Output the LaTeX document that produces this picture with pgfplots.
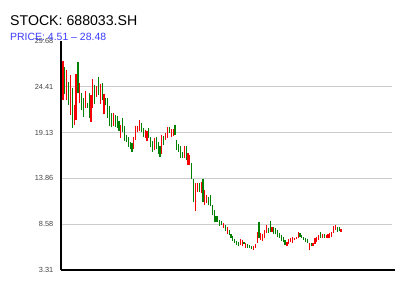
\documentclass[border=0pt]{standalone}
\usepackage{fontspec}
\setmainfont{Liberation Sans}
\usepackage{pgfplots}
\usepackage{pgfplotstable}
\pgfplotsset{compat=1.18}
\definecolor{upred}{RGB}{245,0,0}
\definecolor{dngreen}{RGB}{0,128,0}
\definecolor{subblue}{RGB}{60,60,255}
\definecolor{gridgray}{RGB}{204,204,204}
\definecolor{ticktext}{RGB}{68,68,68}

\pgfplotstableread{
x lo hi
1 22.89 27.38
3 22.89 26.34
5 21.16 25.76
7 20.01 22.31
8 20.58 25.88
10 22.54 24.84
13 21.96 23.92
16 20.35 23.46
17 21.96 25.30
19 23.23 24.50
21 22.42 24.73
23 21.27 23.58
28 19.89 21.39
32 18.51 20.01
39 17.24 18.62
40 18.28 19.89
41 19.20 19.89
42 19.32 20.58
45 18.51 19.43
46 18.16 19.32
50 17.13 18.51
54 16.67 18.85
56 18.28 19.09
57 18.51 19.78
59 18.62 19.55
60 18.74 19.55
66 16.21 17.59
68 15.40 16.78
69 15.40 16.55
72 10.10 13.33
73 12.29 13.33
75 12.18 13.44
77 10.79 12.52
78 11.03 11.95
87 8.15 8.72
89 7.46 8.26
96 6.19 6.88
97 6.07 6.76
99 5.84 6.42
103 5.61 6.07
104 5.84 6.30
105 6.42 7.69
107 6.76 7.57
108 6.65 7.46
109 6.99 7.92
110 7.57 8.49
113 7.69 8.26
121 6.07 6.53
122 6.30 6.88
123 6.53 6.99
124 6.42 7.11
125 6.76 6.99
126 6.88 7.11
127 6.99 7.69
133 5.61 6.42
135 6.07 6.42
136 6.30 6.99
137 6.53 7.11
138 6.76 7.34
140 6.99 7.46
142 6.99 7.34
143 6.99 7.46
144 6.99 7.57
145 7.11 7.69
146 7.57 8.38
147 7.92 8.49
150 7.69 8.03
}\redtab

\pgfplotstableread{
x lo hi
2 23.58 26.69
4 22.31 24.96
6 19.66 24.27
9 23.69 27.26
11 21.73 23.69
12 20.93 23.12
14 21.96 22.54
15 20.81 23.69
18 22.42 24.61
20 23.46 25.53
22 22.89 24.84
24 22.31 23.12
25 20.81 23.12
26 19.89 22.19
27 19.78 21.39
29 19.78 21.16
30 19.66 21.04
31 19.32 20.47
33 19.20 20.81
34 18.16 19.89
35 18.05 18.85
36 17.47 18.62
37 17.24 18.05
38 16.90 17.93
43 19.20 20.24
44 18.62 19.66
47 18.51 19.66
48 17.47 18.62
49 16.90 18.16
51 17.24 18.62
52 16.67 18.05
53 16.32 17.59
55 17.70 18.74
58 19.09 19.78
61 18.85 20.01
62 17.13 18.28
63 16.90 17.82
64 16.21 17.59
65 16.21 16.90
67 15.98 17.59
70 13.79 15.63
71 11.14 13.79
74 12.29 13.33
76 11.14 13.79
79 10.79 11.72
80 10.68 11.95
81 9.64 10.79
82 8.84 10.22
83 8.84 9.53
84 8.84 9.53
85 8.38 9.07
86 8.49 8.95
88 7.80 8.49
90 7.34 7.92
91 6.99 7.46
92 6.65 7.23
93 6.42 6.88
94 6.19 6.65
95 6.07 6.53
98 6.30 6.53
100 5.84 6.30
101 5.84 6.19
102 5.73 6.07
106 6.99 8.84
111 7.57 8.15
112 7.69 8.95
114 7.46 8.26
115 7.46 8.15
116 7.11 7.92
117 6.99 7.57
118 6.65 7.34
119 6.53 7.11
120 6.19 6.76
128 7.11 7.57
129 6.99 7.34
130 6.76 7.11
131 6.53 6.99
132 6.42 6.88
134 6.07 6.42
139 6.99 7.69
141 6.99 7.46
148 7.69 8.26
149 7.80 8.26
}\greentab

\begin{document}
\begin{tikzpicture}
\path[use as bounding box] (-61bp,-30bp) rectangle (339bp,270bp);
\begin{axis}[
  at={(0,0)}, anchor=south west,
  scale only axis, width=331bp, height=229bp,
  xmin=-0.07, xmax=177.3, ymin=3.31, ymax=29.68,
  axis x line*=bottom, axis y line*=left,
  axis line style={line width=2.7bp, black, -},
  x axis line style={shorten >=-3bp},
  xtick=\empty,
  ytick={8.58,13.86,19.13,24.41},
  yticklabels={8.58,13.86,19.13,24.41},
  extra y ticks={3.31,29.68},
  extra y tick labels={3.31,29.68},
  extra y tick style={grid=none},
  ymajorgrids,
  major grid style={gridgray, line width=0.9bp},
  major tick length=0pt,
  yticklabel style={font=\fontsize{7.4}{8}\selectfont, text=ticktext, anchor=east, inner sep=0pt, xshift=-7.5bp},
  /pgf/number format/assume math mode=true,
]
\addplot[upred, line width=1.15bp, quiver={u=0, v=\thisrow{hi}-\thisrow{lo}}] table[x=x, y=lo] {\redtab};
\addplot[dngreen, line width=1.15bp, quiver={u=0, v=\thisrow{hi}-\thisrow{lo}}] table[x=x, y=lo] {\greentab};
\end{axis}
\node[anchor=base west, font=\fontsize{14.2}{16}\selectfont, inner sep=0pt] at (-51bp,244bp) {STOCK: 688033.SH};
\node[anchor=base west, font=\fontsize{10.5}{12}\selectfont, text=subblue, inner sep=0pt] at (-51bp,229.5bp) {PRICE: 4.51 – 28.48};
\end{tikzpicture}
\end{document}
